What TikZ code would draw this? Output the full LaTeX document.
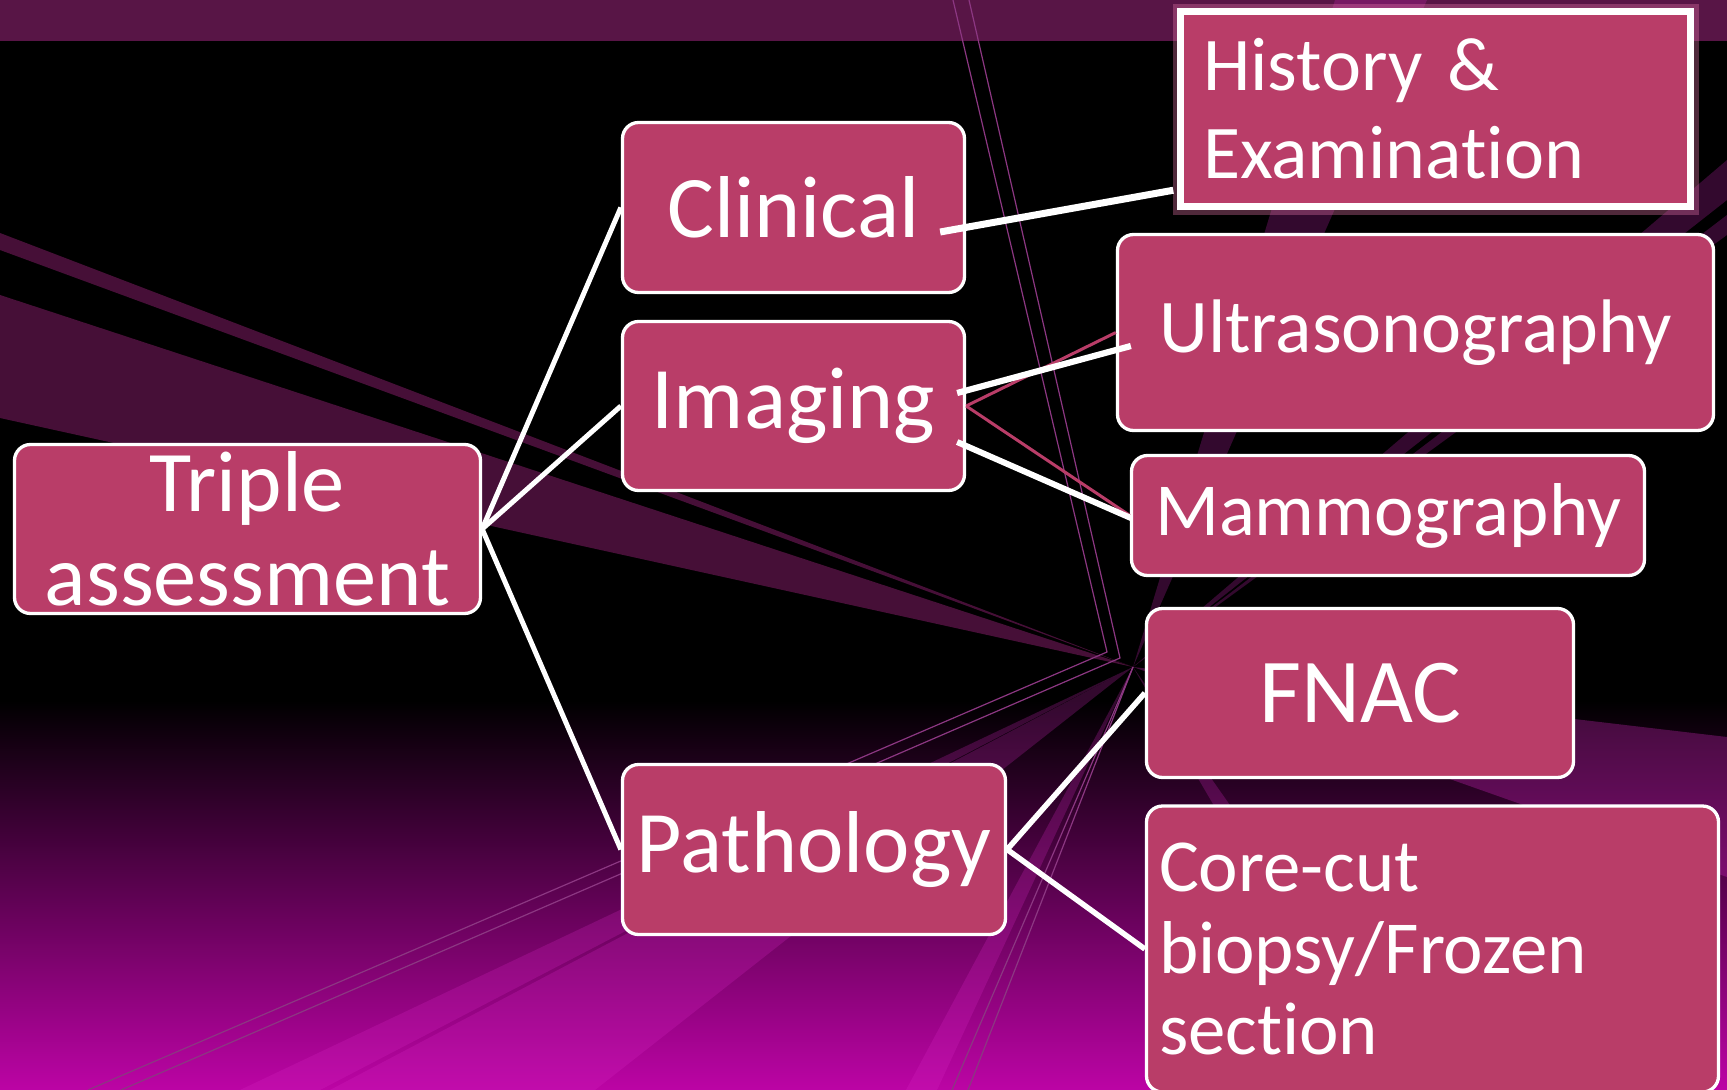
\documentclass[tikz,border=0pt]{standalone}
\usepackage{fontspec}
\setmainfont{Carlito}[Ligatures={NoCommon}]
\usetikzlibrary{calc}
\definecolor{boxfill}{RGB}{185,61,104}
\definecolor{topband}{RGB}{88,21,70}
\definecolor{streak}{RGB}{70,15,55}
\definecolor{mag}{RGB}{215,40,195}
\definecolor{thinl}{RGB}{140,55,130}
\definecolor{gradmid}{RGB}{80,0,75}
\definecolor{gradbot}{RGB}{188,4,165}
\definecolor{glow}{RGB}{230,120,170}
\begin{document}
\begin{tikzpicture}[x=0.1mm,y=-0.1mm,
  pinkbox/.style={draw=white,line width=0.33mm,fill=boxfill,rounded corners=1.6mm,text=white,inner sep=0pt,align=center},
  bigfont/.style={font=\fontsize{25}{27}\selectfont},
  conn/.style={draw=white,line width=0.5mm},
  shadowline/.style={draw=boxfill,line width=0.3mm},
  thinstreak/.style={draw=thinl,line width=0.12mm},
  softwedge/.style={fill=mag,opacity=0.24},
]
\useasboundingbox (0,0) rectangle (1727,1090);
\clip (0,0) rectangle (1727,1090);
% ---------- background ----------
\fill[black] (0,0) rectangle (1727,1090);
\shade[top color=black, middle color=gradmid, bottom color=gradbot] (0,700) rectangle (1727,1090);
\fill[topband] (0,0) rectangle (1727,41);
\coordinate (P) at (1133,667);
\fill[streak] (0,233) -- (P) -- (0,250) -- cycle;
\fill[streak] (0,295) -- (P) -- (0,418) -- cycle;
\fill[softwedge] (P) -- (240,1090) -- (320,1090) -- cycle;
\fill[softwedge] (P) -- (330,1090) -- (595,1090) -- cycle;
\fill[softwedge] (P) -- (906,1090) -- (937,1090) -- cycle;
\fill[softwedge] (P) -- (1380,1090) -- (1430,1090) -- cycle;
\fill[softwedge,opacity=0.3] (P) -- (1727,737) -- (1727,877) -- cycle;
\fill[softwedge] (P) -- (1335,0) -- (1427,0) -- cycle;
\fill[softwedge] (P) -- (1727,160) -- (1727,200) -- cycle;
\fill[softwedge] (P) -- (1727,215) -- (1727,235) -- cycle;
\draw[thinstreak] (P) -- (952,1090);
\draw[thinstreak] (P) -- (968,1090);
\draw[thinstreak] (953,0) -- (1107,652) -- (88,1090);
\draw[thinstreak] (969,0) -- (1120,658) -- (121,1090);
% ---------- boxes ----------
\node[pinkbox,font=\fontsize{24.6}{26.7}\selectfont,minimum width=46.6mm,minimum height=16.9mm] (triple) at (247.5,529) {Triple\\assessment};
\node[pinkbox,bigfont,minimum width=34.2mm,minimum height=17.0mm] (clin) at (793.5,207.5) {Clinical};
\node[pinkbox,bigfont,minimum width=34.2mm,minimum height=16.9mm] (imag) at (793.5,406) {Imaging};
\node[pinkbox,bigfont,minimum width=38.3mm,minimum height=17.0mm] (path) at (814,849.5) {Pathology};
\node[pinkbox,rounded corners=0pt,line width=0.75mm,
      preaction={draw=glow,line width=1.6mm,opacity=0.35},
      font=\fontsize{21.6}{25}\selectfont,align=left,text width=46.5mm,
      minimum width=51.0mm,minimum height=19.5mm] (hist) at (1435.5,109) {History \&\\Examination};
\node[pinkbox,font=\fontsize{21.6}{25}\selectfont,minimum width=59.6mm,minimum height=19.6mm] (ultra) at (1415.5,332.5) {Ultrasonography};
\node[pinkbox,font=\fontsize{21.3}{25}\selectfont,minimum width=51.3mm,minimum height=12.0mm] (mammo) at (1388,515.5) {Mammography};
\node[pinkbox,font=\fontsize{26}{28}\selectfont,minimum width=42.7mm,minimum height=16.9mm] (fnac) at (1360,693) {FNAC};
\node[pinkbox,font=\fontsize{21.3}{23.3}\selectfont,align=left,text width=54.7mm,
      minimum width=57.2mm,minimum height=28.6mm] (core) at (1432.5,949) {Core-cut\\biopsy/Frozen\\section};
% ---------- connectors ----------
\draw[conn] (triple.east) -- (clin.west);
\draw[conn] (triple.east) -- (imag.west);
\draw[conn] (triple.east) -- (path.west);
\draw[conn,line width=0.7mm] ($(clin.east)+(-26,24.5)$) -- ($(hist.south west)+(-3.5,-20)$);
\draw[shadowline] (imag.east) -- (ultra.west);
\draw[shadowline] (imag.east) -- (mammo.west);
\draw[conn,line width=0.62mm] ($(imag.east)+(-9,-13)$) -- ($(ultra.west)+(15,13.5)$);
\draw[conn,line width=0.6mm] ($(imag.east)+(-9,36)$) -- ($(mammo.west)+(1,2.5)$);
\draw[conn,line width=0.55mm] (path.east) -- (fnac.west);
\draw[conn,line width=0.55mm] (path.east) -- (core.west);
\end{tikzpicture}
\end{document}
